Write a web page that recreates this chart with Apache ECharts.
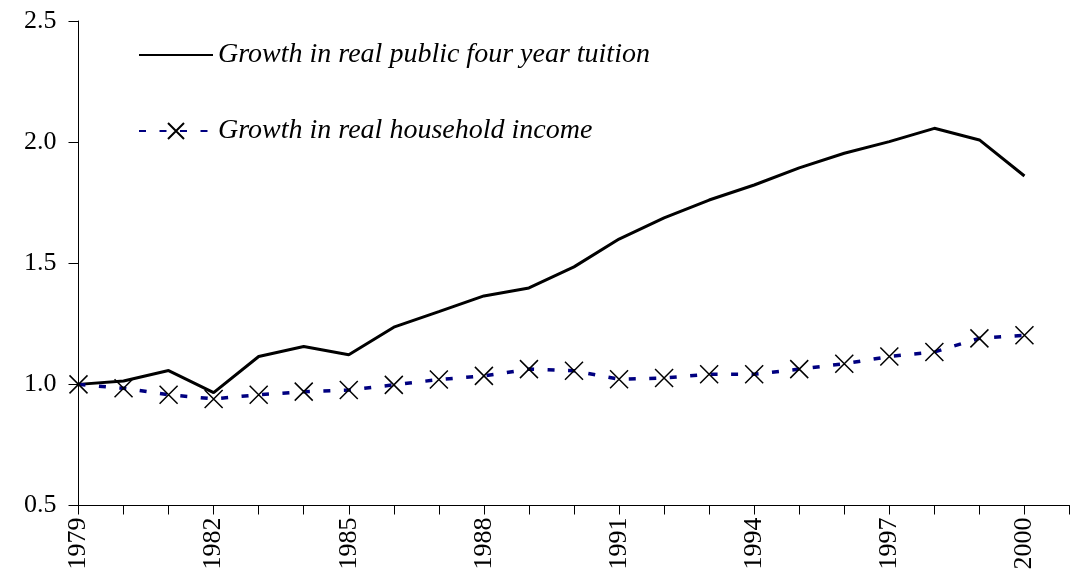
<!DOCTYPE html>
<html>
<head>
<meta charset="utf-8">
<script src="https://cdn.jsdelivr.net/npm/echarts@6/dist/echarts.min.js"></script>
<style>html,body{margin:0;padding:0;background:#fff}#c{width:1071px;height:586px}</style>
</head>
<body>
<div id="c"></div>
<script>
const years = [1979,1980,1981,1982,1983,1984,1985,1986,1987,1988,1989,1990,1991,1992,1993,1994,1995,1996,1997,1998,1999,2000];
const tuition = [1.000,1.014,1.057,0.966,1.115,1.156,1.122,1.236,1.300,1.365,1.398,1.485,1.600,1.687,1.761,1.823,1.894,1.954,2.002,2.057,2.009,1.860];
const income = [1.000,0.984,0.957,0.940,0.957,0.970,0.977,0.998,1.020,1.035,1.063,1.056,1.021,1.026,1.042,1.042,1.063,1.085,1.115,1.134,1.190,1.203];
const seriesNames = ['Growth in real public four year tuition','Growth in real household income'];
const yTicks = [0.5,1.0,1.5,2.0,2.5];
const xLabelYears = [1979,1982,1985,1988,1991,1994,1997,2000];

const font = '"Liberation Serif", "Times New Roman", serif';
const chart = echarts.init(document.getElementById('c'), null, {renderer:'canvas'});
chart.setOption({
  animation:false,
  backgroundColor:'#fff',
  grid:{left:78.5, right:1.5, top:21, bottom:80.5, containLabel:false},
  legend:{
    orient:'vertical', left:133, top:36, itemWidth:74, itemHeight:20, itemGap:48,
    textStyle:{fontFamily:font, fontStyle:'italic', fontSize:28, color:'#000'},
    data:[
      {name:seriesNames[0], itemStyle:{opacity:0}},
      {name:seriesNames[1]}
    ]
  },
  xAxis:{
    type:'value', min:1979, max:2001, interval:1,
    splitLine:{show:false},
    axisLine:{lineStyle:{color:'#000', width:1}},
    axisTick:{length:9, lineStyle:{color:'#000'}},
    axisLabel:{
      rotate:90, margin:12, color:'#000', fontFamily:font, fontSize:26,
      formatter:v => xLabelYears.indexOf(v) >= 0 ? String(v) : ''
    }
  },
  yAxis:{
    type:'value', min:yTicks[0], max:yTicks[yTicks.length-1], interval:0.5,
    splitLine:{show:false},
    axisLine:{show:true, lineStyle:{color:'#000', width:1}},
    axisTick:{show:true, length:10, lineStyle:{color:'#000'}},
    axisLabel:{margin:22, color:'#000', fontFamily:font, fontSize:26, formatter:v => v.toFixed(1)}
  },
  series:[
    {
      name:seriesNames[0], type:'line', showSymbol:false,
      lineStyle:{color:'#000', width:3},
      itemStyle:{color:'#000'},
      data:years.map((y,i)=>[y,tuition[i]])
    },
    {
      name:seriesNames[1], type:'line',
      symbol:'path://M0,0L10,10M10,0L0,10', symbolSize:18,
      itemStyle:{color:'transparent', borderColor:'#000', borderWidth:1.5},
      lineStyle:{color:'#000080', width:3.5, type:[7,13.5]},
      data:years.map((y,i)=>[y,income[i]]),
      z:3
    }
  ]
});
</script>
</body>
</html>
